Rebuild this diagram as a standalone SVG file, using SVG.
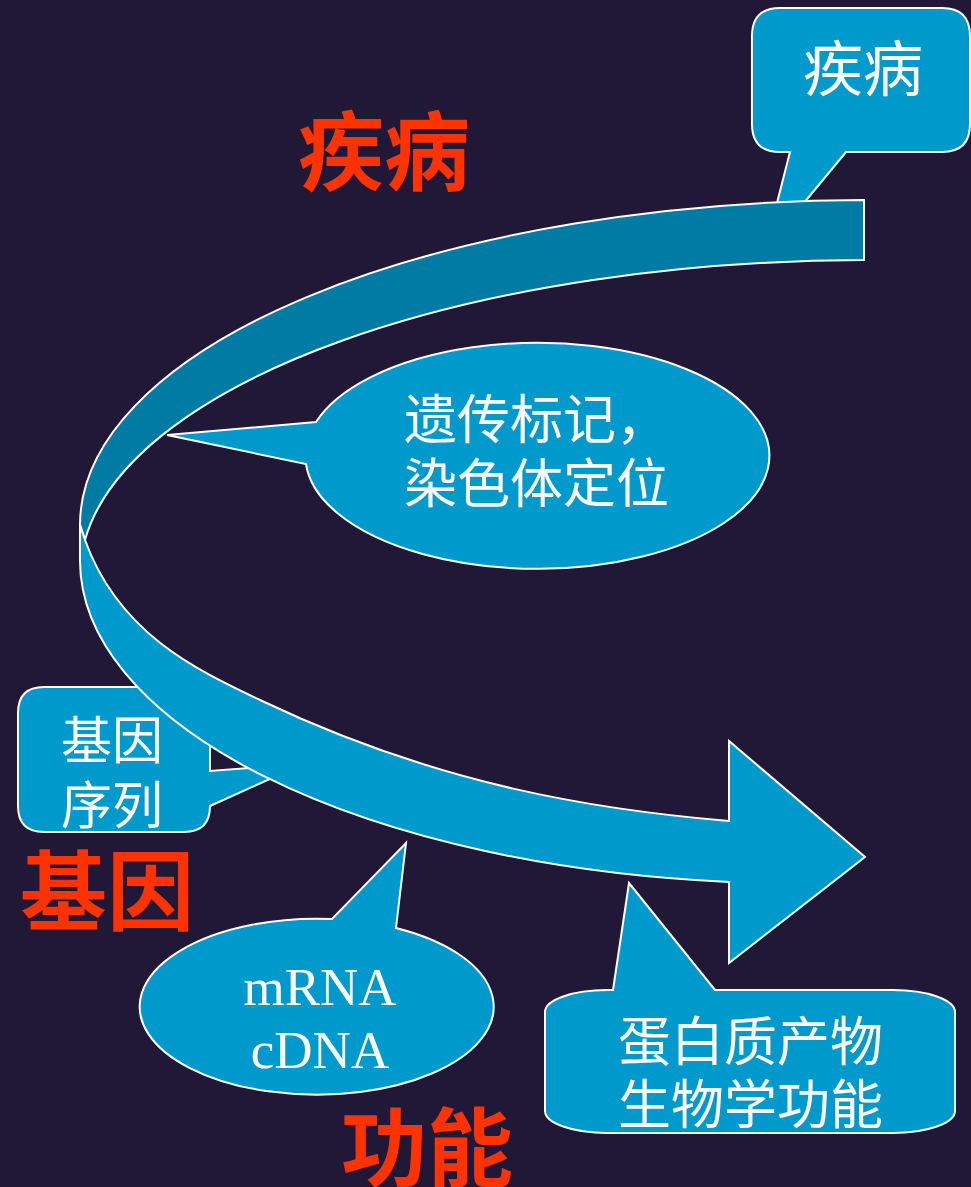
<svg xmlns="http://www.w3.org/2000/svg" width="971" height="1187" viewBox="0 0 971 1187">
<style>
.call{fill:#0099CC;stroke:#FFFFFF;stroke-width:2;stroke-linejoin:miter}
.band{stroke:#FFFFFF;stroke-width:2;stroke-linejoin:miter}
.wt{fill:#FFFFFF;font-family:"Noto Sans CJK SC",sans-serif}
.lat{fill:#FFFFFF;font-family:"Liberation Serif",serif}
.red{fill:#FF3300;font-family:"Noto Sans CJK SC",sans-serif;font-weight:bold}
</style>
<rect x="0" y="0" width="971" height="1187" fill="#211838"/>

<g id="callout-disease">
<path class="call" d="M780,8 H942 Q970,8 970,36 V124 Q970,152 942,152 H846 L765,250 L790,152 H780 Q752,152 752,124 V36 Q752,8 780,8 Z"/>
<text class="wt" x="863" y="91" font-size="60" text-anchor="middle">疾病</text>
</g>

<g id="callout-sequence">
<path class="call" d="M44,687 H184 Q210,687 210,713 V771 L303,764 L210,806 Q210,832 184,832 H44 Q18,832 18,806 V713 Q18,687 44,687 Z"/>
</g>

<g id="connectors">
<path class="band" fill="#007BA3" d="M864,200 A790,325 0 0 0 80,525 L85,540 A790,315 0 0 1 864,260 Z"/>
<path class="band" fill="#0099CC" d="M80,525 L85,540 C119,634 197,670 260,700 C440,786 599,810 729,821 L729,741 L865,857 L729,963 L729,882 A720,323 0 0 1 80,560 Z"/>
</g>

<g id="callout-sequence-text">
<text class="wt" x="61" y="759" font-size="51">基因</text>
<text class="wt" x="61" y="824" font-size="51">序列</text>
</g>

<g id="callout-marker">
<path class="call" d="M316,422 A232,113 0 1 1 306,464 L167,435 Z"/>
<text class="wt" x="404" y="439" font-size="53">遗传标记，</text>
<text class="wt" x="404" y="503" font-size="53">染色体定位</text>
</g>

<g id="callout-mrna">
<path class="call" d="M396,928 A177,88 0 1 1 332,919 L406,843 Z"/>
<text class="lat" x="320" y="1005" font-size="53" text-anchor="middle">mRNA</text>
<text class="lat" x="320" y="1068" font-size="53" text-anchor="middle">cDNA</text>
</g>

<g id="callout-protein">
<path class="call" d="M613,990 L629,883 L715,990 H893 A62,22 0 0 1 955,1012 V1111 A62,22 0 0 1 893,1133 H607 A62,22 0 0 1 545,1111 V1012 A62,22 0 0 1 607,990 Z"/>
<text class="wt" x="618" y="1061" font-size="53">蛋白质产物</text>
<text class="wt" x="618" y="1124" font-size="53">生物学功能</text>
</g>

<g id="label-disease"><text class="red" x="298" y="184" font-size="86">疾病</text></g>
<g id="label-gene"><text class="red" x="20" y="924" font-size="87">基因</text></g>
<g id="label-function"><text class="red" x="341" y="1180" font-size="86">功能</text></g>
</svg>
